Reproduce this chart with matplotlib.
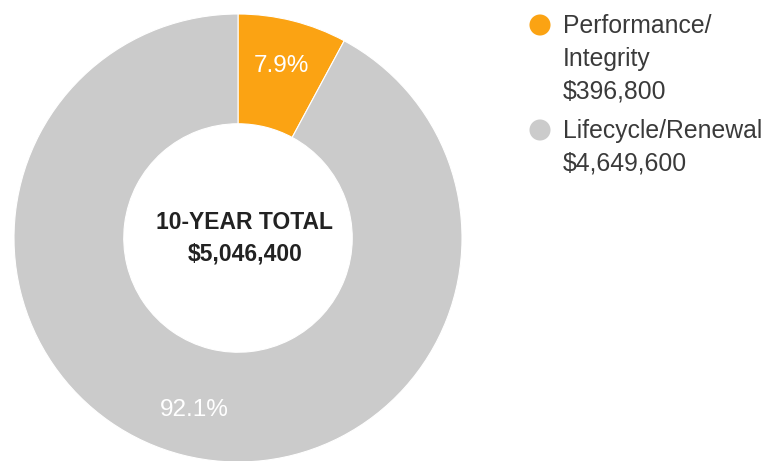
import matplotlib.pyplot as plt

plt.rcParams['font.family'] = ['Liberation Sans', 'DejaVu Sans']

# Ten-year cost split
categories = ['Performance/\nIntegrity', 'Lifecycle/Renewal']
amounts = [396800, 4649600]
colors = ['#FBA313', '#CBCBCB']
total = sum(amounts)

fig = plt.figure(figsize=(7.66, 4.61), dpi=100)
ax = fig.add_axes([0, 0, 1, 1])
ax.set_aspect('equal')
ax.axis('off')

# Donut, working in pixel units
cx, cy, r = 238, 223, 224
wedges, texts, autotexts = ax.pie(
    amounts, colors=colors, center=(cx, cy), radius=r,
    startangle=90, counterclock=False,
    autopct='%1.1f%%', pctdistance=0.79,
    wedgeprops=dict(width=r * 0.49, edgecolor='white', linewidth=0.8),
    textprops=dict(color='white', fontsize=17.5))
ax.set_xlim(0, 766)
ax.set_ylim(0, 461)

ax.text(cx + 7, cy + 16, '10-YEAR TOTAL', ha='center', va='center',
        fontsize=16.5, fontweight='bold', color='#222222')
ax.text(cx + 7, cy - 16, '${:,}'.format(total), ha='center', va='center',
        fontsize=16.5, fontweight='bold', color='#222222')

# Legend built by hand
leg_x, leg_y = 540, 461 - 26
line_h = 32.5
group_gap = 40
y = leg_y
for name, amt, col in zip(categories, amounts, colors):
    ax.scatter([leg_x], [y + 1], s=230, color=col, edgecolors='none')
    lines = name.split('\n') + ['${:,}'.format(amt)]
    for i, line in enumerate(lines):
        ax.text(leg_x + 23, y - i * line_h, line, ha='left', va='center',
                fontsize=17.8, color='#3a3a3a')
    y -= (len(lines) - 1) * line_h + group_gap

fig.savefig('out.png', dpi=100)
